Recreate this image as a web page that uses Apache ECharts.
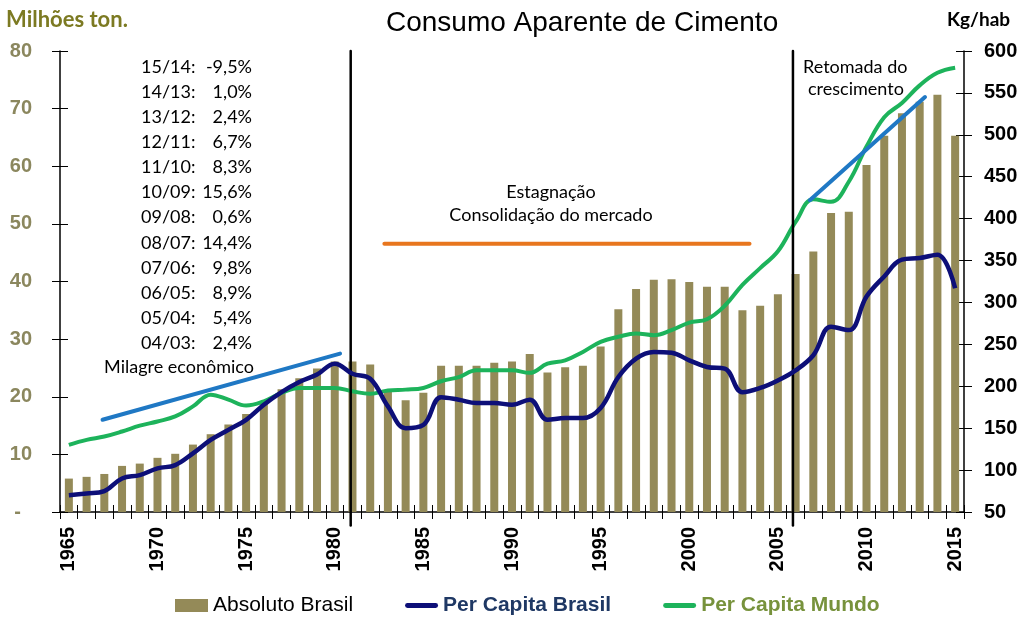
<!DOCTYPE html>
<html><head><meta charset="utf-8">
<script src="https://cdn.jsdelivr.net/npm/echarts@6/dist/echarts.min.js"></script>
<style>html,body{margin:0;padding:0;background:#fff}#c{width:1024px;height:619px}</style>
</head><body><div id="c"></div>
<script>
const years = ['1965','1966','1967','1968','1969','1970','1971','1972','1973','1974',
  '1975','1976','1977','1978','1979','1980','1981','1982','1983','1984',
  '1985','1986','1987','1988','1989','1990','1991','1992','1993','1994',
  '1995','1996','1997','1998','1999','2000','2001','2002','2003','2004',
  '2005','2006','2007','2008','2009','2010','2011','2012','2013','2014','2015'];

// Milhões de toneladas (eixo esquerdo)
const absolutoBrasil = [5.8, 6.1, 6.6, 8.0, 8.4, 9.4, 10.1, 11.7, 13.5, 15.2,
  17.0, 18.9, 21.3, 23.2, 24.9, 26.1, 26.1, 25.6, 20.9, 19.4,
  20.7, 25.4, 25.4, 25.4, 25.9, 26.1, 27.4, 24.2, 25.1, 25.4,
  28.7, 35.2, 38.7, 40.3, 40.4, 39.9, 39.1, 39.1, 35.0, 35.8,
  37.8, 41.3, 45.2, 51.9, 52.1, 60.2, 65.3, 69.2, 71.2, 72.4, 65.3];

// Kg/hab (eixo direito)
const perCapitaBrasil = [70, 72, 75, 90, 94, 102, 106, 120, 136, 148,
  160, 178, 193, 205, 214, 227, 215, 209, 176, 150,
  154, 187, 184, 180, 180, 178, 184, 160, 162, 162,
  174, 211, 233, 241, 240, 231, 223, 221, 193, 198,
  207, 219, 237, 271, 267, 307, 331, 351, 353, 357, 317];

const perCapitaMundo = [130, 136, 140, 146, 153, 158, 164, 176, 190, 184,
  177, 182, 192, 198, 198, 198, 194, 191, 195, 196,
  198, 206, 211, 219, 219, 219, 216, 227, 231, 241,
  253, 259, 263, 261, 267, 276, 280, 296, 321, 341,
  361, 396, 423, 420, 444, 486, 521, 538, 559, 574, 580];

// annotation lines: [year, Kg/hab]
const trendMilagre = [[1966.9, 160], [1980.3, 239]];
const trendEstagnacao = [[1982.8, 370], [2003.4, 370]];
const trendRetomada = [[2006.8, 422], [2013.3, 545]];
const divider1 = [[1980.9, 600], [1980.9, 34]];
const divider2 = [[2005.85, 600], [2005.85, 34]];

const growthLabels = ['15/14:', '14/13:', '13/12:', '12/11:', '11/10:', '10/09:', '09/08:', '08/07:', '07/06:', '06/05:', '05/04:', '04/03:'];
const growthValues = ['-9,5%', '1,0%', '2,4%', '6,7%', '8,3%', '15,6%', '0,6%', '14,4%', '9,8%', '8,9%', '5,4%', '2,4%'];

const SANS = '"Liberation Sans", Arial, sans-serif';
const CAL = 'Lato, "Open Sans", sans-serif';

const chart = echarts.init(document.getElementById('c'), null, {renderer: 'canvas'});

const graphics = [];
growthLabels.forEach((l, i) => {
  graphics.push({type: 'text', x: 141, y: 67 + i * 25.1, style: {text: l, font: '18px ' + CAL, fill: '#000', textVerticalAlign: 'middle', textAlign: 'left'}});
  graphics.push({type: 'text', x: 252, y: 67 + i * 25.1, style: {text: growthValues[i], font: '18px ' + CAL, fill: '#000', textVerticalAlign: 'middle', textAlign: 'right'}});
});
graphics.push({type: 'text', x: 179, y: 367, style: {text: 'Milagre econômico', font: '18px ' + CAL, fill: '#000', textAlign: 'center', textVerticalAlign: 'middle'}});
graphics.push({type: 'text', x: 551, y: 192, style: {text: 'Estagnação', font: '18px ' + CAL, fill: '#000', textAlign: 'center', textVerticalAlign: 'middle'}});
graphics.push({type: 'text', x: 551, y: 215, style: {text: 'Consolidação do mercado', font: '18px ' + CAL, fill: '#000', textAlign: 'center', textVerticalAlign: 'middle'}});
graphics.push({type: 'text', x: 803, y: 67, style: {text: 'Retomada do', font: '18px ' + CAL, fill: '#000', textAlign: 'left', textVerticalAlign: 'middle'}});
graphics.push({type: 'text', x: 808, y: 89, style: {text: 'crescimento', font: '18px ' + CAL, fill: '#000', textAlign: 'left', textVerticalAlign: 'middle'}});
graphics.push({type: 'text', x: 6, y: 20, style: {text: 'Milhões ton.', font: 'bold 22px ' + CAL, fill: '#7C7A22', textAlign: 'left', textVerticalAlign: 'middle'}});
graphics.push({type: 'text', x: 947, y: 20, style: {text: 'Kg/hab', font: 'bold 19px ' + CAL, fill: '#000', textAlign: 'left', textVerticalAlign: 'middle'}});

const gridBox = {left: 60, right: 60, top: 51, bottom: 107};

function annot(name, data, color, width) {
  return {name: name, type: 'line', xAxisIndex: 2, yAxisIndex: 1, data: data, symbol: 'none',
    clip: false, silent: true, z: 5, lineStyle: {color: color, width: width, cap: 'round'}};
}

const lineIcon = 'path://M2,0 L31,0 A2.5,2.5 0 0 1 31,5 L2,5 A2.5,2.5 0 0 1 2,0 Z';

chart.setOption({
  animation: false,
  backgroundColor: '#fff',
  title: {text: 'Consumo Aparente de Cimento', left: 381, top: 4,
    textStyle: {fontFamily: SANS, fontSize: 28, fontWeight: 'normal', color: '#000'}},
  grid: gridBox,
  legend: {
    left: 170, top: 590, itemWidth: 33, itemHeight: 13, itemGap: 52,
    data: [
      {name: 'Absoluto Brasil', icon: 'rect', textStyle: {color: '#000', fontWeight: 'normal'}},
      {name: 'Per Capita Brasil', icon: lineIcon, textStyle: {color: '#1F3864', fontWeight: 'bold'}},
      {name: 'Per Capita Mundo', icon: lineIcon, textStyle: {color: '#77923C', fontWeight: 'bold'}}
    ],
    textStyle: {fontFamily: SANS, fontSize: 21}
  },
  xAxis: [
    {type: 'category', data: years, gridIndex: 0, position: 'bottom',
      axisLine: {lineStyle: {color: '#000', width: 1.5}},
      axisTick: {show: true, interval: 0, length: 7, lineStyle: {color: '#000', width: 1}},
      axisLabel: {interval: function (i, v) { return (+v) % 5 === 0; }, rotate: 90, margin: 15,
        fontFamily: SANS, fontSize: 20, fontWeight: 'bold', color: '#000'}},
    {type: 'category', data: years, gridIndex: 0, position: 'bottom',
      axisLine: {show: false},
      axisTick: {show: true, inside: true, interval: 0, length: 7, lineStyle: {color: '#000', width: 1}},
      axisLabel: {show: false}},
    {type: 'value', min: 1964.5, max: 2015.5, show: false}
  ],
  yAxis: [
    {type: 'value', min: 0, max: 80, interval: 10, position: 'left',
      splitLine: {show: false},
      axisLine: {show: true, lineStyle: {color: '#000', width: 1.5}},
      axisTick: {show: true, length: 8, lineStyle: {color: '#000'}},
      axisLabel: {margin: 28, fontFamily: SANS, fontSize: 20, fontWeight: 'bold', color: '#8B875E',
        formatter: function (v) { return v === 0 ? '-  ' : v; }}},
    {type: 'value', min: 50, max: 600, interval: 50, position: 'right',
      splitLine: {show: false},
      axisLine: {show: true, lineStyle: {color: '#000', width: 1.5}},
      axisTick: {show: true, length: 8, lineStyle: {color: '#000'}},
      axisLabel: {margin: 20, fontFamily: SANS, fontSize: 20, fontWeight: 'bold', color: '#000'}},
    {type: 'value', min: 0, max: 80, interval: 10, position: 'left',
      splitLine: {show: false}, axisLine: {show: false},
      axisTick: {show: true, inside: true, length: 8, lineStyle: {color: '#000'}},
      axisLabel: {show: false}},
    {type: 'value', min: 50, max: 600, interval: 50, position: 'right',
      splitLine: {show: false}, axisLine: {show: false},
      axisTick: {show: true, inside: true, length: 8, lineStyle: {color: '#000'}},
      axisLabel: {show: false}}
  ],
  series: [
    {name: 'Absoluto Brasil', type: 'bar', xAxisIndex: 0, yAxisIndex: 0, data: absolutoBrasil,
      barWidth: 8, itemStyle: {color: '#948A58'}, z: 2},
    {name: 'Per Capita Mundo', type: 'line', xAxisIndex: 0, yAxisIndex: 1, data: perCapitaMundo,
      smooth: 0.4, symbol: 'none', lineStyle: {color: '#1DB35B', width: 4}, itemStyle: {color: '#1DB35B'}, z: 3},
    annot('tr1', trendMilagre, '#1F78C4', 4),
    annot('tr2', trendEstagnacao, '#E8761E', 4),
    annot('tr3', trendRetomada, '#1F78C4', 4),
    {name: 'Per Capita Brasil', type: 'line', xAxisIndex: 0, yAxisIndex: 1, data: perCapitaBrasil,
      smooth: 0.4, symbol: 'none', lineStyle: {color: '#0D0F78', width: 4.5}, itemStyle: {color: '#0D0F78'}, z: 6},
    annot('d1', divider1, '#000', 2.5),
    annot('d2', divider2, '#000', 2.5)
  ],
  graphic: graphics
});
</script></body></html>
